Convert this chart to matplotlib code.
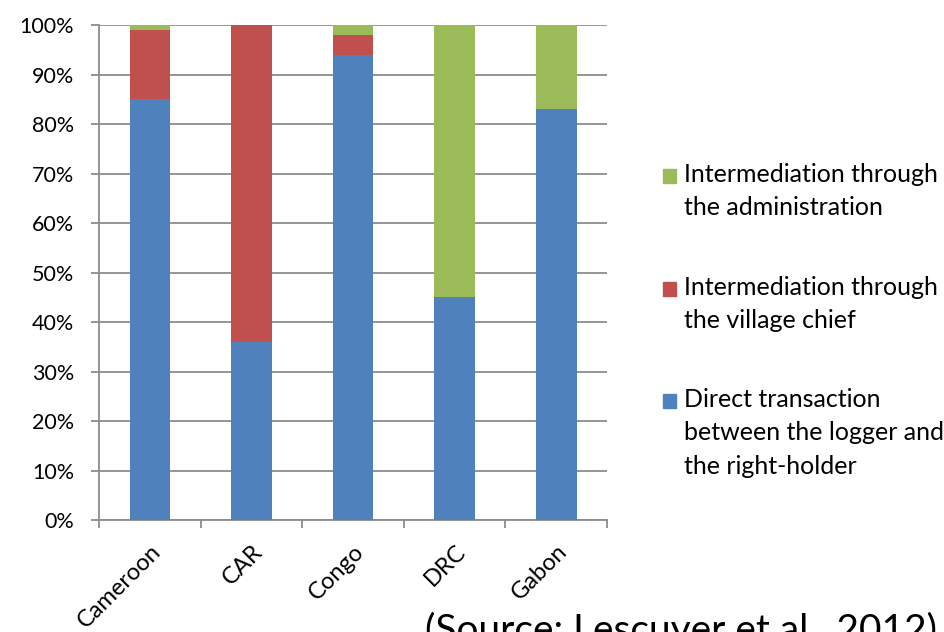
import matplotlib.pyplot as plt
from matplotlib.patches import Rectangle

countries = ['Cameroon', 'CAR', 'Congo', 'DRC', 'Gabon']
direct = [85, 36, 94, 45, 83]
chief = [14, 64, 4, 0, 0]
admin = [1, 0, 2, 55, 17]

series_labels = ['Intermediation through\nthe administration',
                 'Intermediation through\nthe village chief',
                 'Direct transaction\nbetween the logger and\nthe right-holder']
colors = ['#9BBB59', '#C0504D', '#4F81BD']

plt.rcParams['font.family'] = ['Lato', 'DejaVu Sans']

fig = plt.figure(figsize=(9.45, 6.32), dpi=100)
ax = fig.add_axes([0.1048, 0.1772, 0.5376, 0.7832])

x = range(len(countries))
bottom2 = [d + c for d, c in zip(direct, chief)]
ax.bar(x, direct, width=0.4, color=colors[2], zorder=3)
ax.bar(x, chief, width=0.4, bottom=direct, color=colors[1], zorder=3)
ax.bar(x, admin, width=0.4, bottom=bottom2, color=colors[0], zorder=3)

ax.set_xlim(-0.5, 4.5)
ax.set_ylim(0, 100)
ax.set_yticks(range(0, 101, 10))
ax.set_yticklabels(['%d%%' % v for v in range(0, 101, 10)], fontsize=15.5)
ax.yaxis.grid(True, color='#8c8c8c', linewidth=1.3, zorder=0)

ax.set_xticks([i - 0.5 for i in range(len(countries) + 1)])
ax.set_xticklabels([])
ax.set_xticks(list(x), minor=True)
ax.set_xticklabels(countries, minor=True, rotation=45, ha='right',
                   rotation_mode='anchor', fontsize=17)
ax.tick_params(axis='x', which='minor', length=0, pad=15)
ax.tick_params(axis='x', which='major', length=6, width=1.3, color='#8c8c8c')
ax.tick_params(axis='y', length=6, width=1.3, color='#8c8c8c', pad=12)

for side in ['top', 'right']:
    ax.spines[side].set_visible(False)
for side in ['left', 'bottom']:
    ax.spines[side].set_color('#8c8c8c')
    ax.spines[side].set_linewidth(1.3)

# legend drawn by hand so the swatch sits on the first text line
leg_y = [176, 289, 401]
for lab, col, yy in zip(series_labels, colors, leg_y):
    fy = 1 - yy / 632
    fig.add_artist(Rectangle((663 / 945, fy - 7 / 632), 13 / 945, 14 / 632,
                             transform=fig.transFigure, color=col))
    fig.text(684 / 945, fy + 13 / 632, lab, fontsize=18, va='top',
             linespacing=1.55)

fig.text(425 / 945, 1 - 612 / 632, '(Source: Lescuyer et al., 2012)',
         fontsize=28, va='top')

fig.savefig('out.png', dpi=100)
